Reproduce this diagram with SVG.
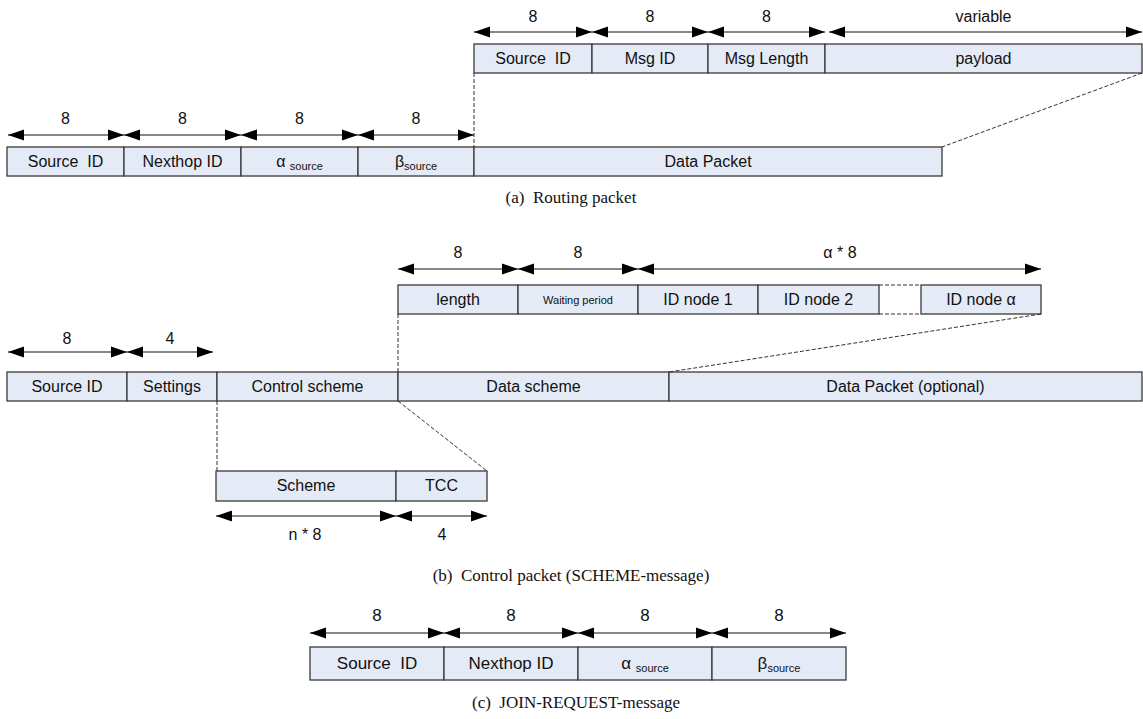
<svg xmlns="http://www.w3.org/2000/svg" width="1143" height="719" viewBox="0 0 1143 719">
<style>
.cell{fill:#e4ebf6;stroke:#3a3a3a;stroke-width:1.3}
.t{font-family:"Liberation Sans",Arial,sans-serif;font-size:16px;fill:#111;text-anchor:middle}
.tc{font-family:"Liberation Sans",Arial,sans-serif;font-size:17px;fill:#111;text-anchor:middle}
.ts{font-family:"Liberation Sans",Arial,sans-serif;font-size:11px;fill:#111;text-anchor:middle}
.sub{font-size:11px}
.cap{font-family:"Liberation Serif","Times New Roman",serif;font-size:17px;fill:#111;text-anchor:middle}
.arr{stroke:#111;stroke-width:1;fill:none;marker-start:url(#ah);marker-end:url(#ah)}
.dash{stroke:#333;stroke-width:1;fill:none;stroke-dasharray:4 2}
</style>
<defs>
<marker id="ah" markerUnits="userSpaceOnUse" markerWidth="17" markerHeight="12" refX="16" refY="6" orient="auto-start-reverse">
<path d="M0,0.5 L16,6 L0,11.5 Z" fill="#000"/>
</marker>
</defs>

<!-- (a) Routing packet -->
<g id="a-top">
<rect class="cell" x="474" y="44" width="118" height="29"/><text class="t" x="533" y="64" xml:space="preserve">Source  ID</text>
<rect class="cell" x="592" y="44" width="116" height="29"/><text class="t" x="650" y="64">Msg ID</text>
<rect class="cell" x="708" y="44" width="117" height="29"/><text class="t" x="766.5" y="64">Msg Length</text>
<rect class="cell" x="825" y="44" width="317" height="29"/><text class="t" x="983.5" y="64">payload</text>
</g>
<g id="a-bottom">
<rect class="cell" x="7" y="147" width="117" height="29"/><text class="t" x="65.5" y="167" xml:space="preserve">Source  ID</text>
<rect class="cell" x="124" y="147" width="117" height="29"/><text class="t" x="182.5" y="167">Nexthop ID</text>
<rect class="cell" x="241" y="147" width="117" height="29"/><text class="t" x="299.5" y="167">α <tspan class="sub" dy="3">source</tspan></text>
<rect class="cell" x="358" y="147" width="116" height="29"/><text class="t" x="416" y="167">β<tspan class="sub" dy="3">source</tspan></text>
<rect class="cell" x="474" y="147" width="468" height="29"/><text class="t" x="708" y="167">Data Packet</text>
</g>
<g id="a-labels">
<text class="t" x="533" y="22">8</text><text class="t" x="650" y="22">8</text><text class="t" x="766.5" y="22">8</text><text class="t" x="983.5" y="22">variable</text>
<text class="t" x="65.5" y="124">8</text><text class="t" x="182.5" y="124">8</text><text class="t" x="299.5" y="124">8</text><text class="t" x="416" y="124">8</text>
<text class="cap" x="571" y="203" xml:space="preserve">(a)  Routing packet</text>
</g>

<!-- (b) Control packet -->
<g id="b-top">
<rect class="cell" x="398" y="285" width="120" height="29"/><text class="t" x="458" y="305">length</text>
<rect class="cell" x="518" y="285" width="120" height="29"/><text class="ts" x="578" y="304">Waiting period</text>
<rect class="cell" x="638" y="285" width="120" height="29"/><text class="t" x="698" y="305">ID node 1</text>
<rect class="cell" x="758" y="285" width="121" height="29"/><text class="t" x="818.5" y="305">ID node 2</text>
<rect class="cell" x="921" y="285" width="120" height="29"/><text class="t" x="981" y="305">ID node α</text>
</g>
<g id="b-middle">
<rect class="cell" x="7" y="372" width="120" height="29"/><text class="t" x="67" y="392">Source ID</text>
<rect class="cell" x="127" y="372" width="90" height="29"/><text class="t" x="172" y="392">Settings</text>
<rect class="cell" x="217" y="372" width="181" height="29"/><text class="t" x="307.5" y="392">Control scheme</text>
<rect class="cell" x="398" y="372" width="271" height="29"/><text class="t" x="533.5" y="392">Data scheme</text>
<rect class="cell" x="669" y="372" width="473" height="29"/><text class="t" x="905.5" y="392">Data Packet (optional)</text>
</g>
<g id="b-bottom">
<rect class="cell" x="216" y="471" width="180" height="30"/><text class="t" x="306" y="491">Scheme</text>
<rect class="cell" x="396" y="471" width="91" height="30"/><text class="t" x="441.5" y="491">TCC</text>
</g>
<g id="b-labels">
<text class="t" x="458" y="258">8</text><text class="t" x="578" y="258">8</text><text class="t" x="840" y="258">α * 8</text>
<text class="t" x="67" y="344">8</text><text class="t" x="170" y="344">4</text>
<text class="t" x="305" y="540">n * 8</text><text class="t" x="442" y="540">4</text>
<text class="cap" x="571" y="581" xml:space="preserve">(b)  Control packet (SCHEME-message)</text>
</g>

<!-- (c) JOIN-REQUEST -->
<g id="c-row">
<rect class="cell" x="310" y="647" width="134" height="33"/><text class="tc" x="377" y="669" xml:space="preserve">Source  ID</text>
<rect class="cell" x="444" y="647" width="134" height="33"/><text class="tc" x="511" y="669">Nexthop ID</text>
<rect class="cell" x="578" y="647" width="134" height="33"/><text class="tc" x="645" y="669">α <tspan class="sub" dy="3">source</tspan></text>
<rect class="cell" x="712" y="647" width="134" height="33"/><text class="tc" x="779" y="669">β<tspan class="sub" dy="3">source</tspan></text>
</g>
<g id="c-labels">
<text class="tc" x="377" y="621">8</text><text class="tc" x="511" y="621">8</text><text class="tc" x="645" y="621">8</text><text class="tc" x="779" y="621">8</text>
<text class="cap" x="576" y="708" xml:space="preserve">(c)  JOIN-REQUEST-message</text>
</g>

<g id="connectors">
<line class="arr" x1="474" y1="32" x2="592" y2="32"/>
<line class="arr" x1="592" y1="32" x2="708" y2="32"/>
<line class="arr" x1="708" y1="32" x2="825" y2="32"/>
<line class="arr" x1="829" y1="32" x2="1142" y2="32"/>
<line class="arr" x1="8" y1="135" x2="124" y2="135"/>
<line class="arr" x1="124" y1="135" x2="241" y2="135"/>
<line class="arr" x1="241" y1="135" x2="358" y2="135"/>
<line class="arr" x1="358" y1="135" x2="474" y2="135"/>
<line class="dash" x1="474" y1="73" x2="474" y2="147"/>
<line class="dash" x1="1142" y1="73" x2="942" y2="147"/>

<line class="arr" x1="398" y1="269" x2="518" y2="269"/>
<line class="arr" x1="518" y1="269" x2="638" y2="269"/>
<line class="arr" x1="638" y1="269" x2="1041" y2="269"/>
<line class="dash" x1="879" y1="285" x2="921" y2="285"/>
<line class="dash" x1="879" y1="314" x2="921" y2="314"/>
<line class="arr" x1="8" y1="352" x2="127" y2="352"/>
<line class="arr" x1="127" y1="352" x2="213" y2="352"/>
<line class="dash" x1="398" y1="314" x2="398" y2="372"/>
<line class="dash" x1="1041" y1="314" x2="669" y2="372"/>
<line class="dash" x1="217" y1="401" x2="217" y2="471"/>
<line class="dash" x1="398" y1="401" x2="487" y2="471"/>
<line class="arr" x1="216" y1="516" x2="396" y2="516"/>
<line class="arr" x1="396" y1="516" x2="487" y2="516"/>

<line class="arr" x1="310" y1="633" x2="444" y2="633"/>
<line class="arr" x1="444" y1="633" x2="578" y2="633"/>
<line class="arr" x1="578" y1="633" x2="712" y2="633"/>
<line class="arr" x1="712" y1="633" x2="846" y2="633"/>
</g>
</svg>
